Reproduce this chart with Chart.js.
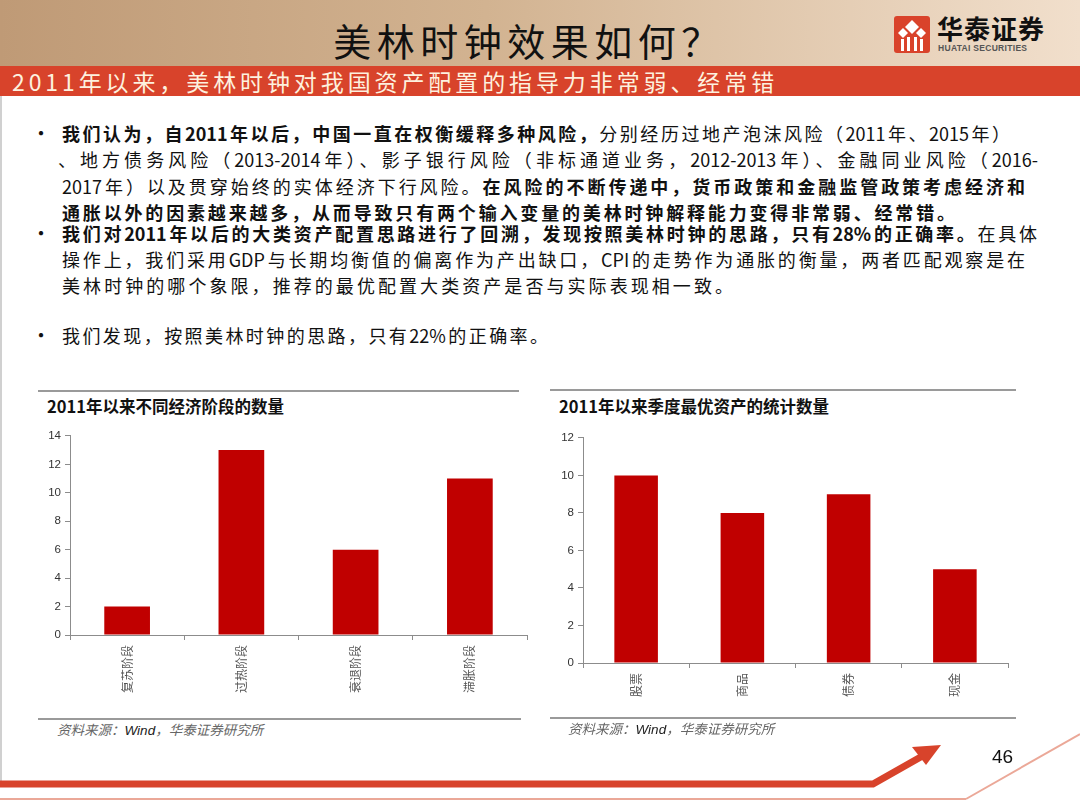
<!DOCTYPE html>
<html>
<head>
<meta charset="utf-8">
<script src="https://cdn.jsdelivr.net/npm/chart.js@4"></script>
<style>
body { margin: 0; width: 1080px; height: 810px; position: relative; overflow: hidden; background: #fff; font-family: "Noto Sans CJK SC", sans-serif; }
.abs { position: absolute; }
.header { left: 0; top: 0; width: 1080px; height: 66px; background: linear-gradient(to right, #bf9a76 0%, #d2b391 45%, #f1dfcc 100%); }
.title { left: 0; top: 16px; width: 1058px; text-align: center; font-size: 38px; line-height: 48px; letter-spacing: 5.5px; color: #111; }
.band { left: 0; top: 66px; width: 1080px; height: 30px; background: #d8432b; }
.bandtext { left: 12px; top: 66px; font-size: 23px; line-height: 30px; letter-spacing: 3.9px; color: #fdf1df; white-space: nowrap; }
.line { left: 62px; height: 26px; line-height: 26px; font-size: 18px; color: #111; text-align: justify; text-align-last: justify; }
.line b { font-weight: 700; }
.dot { left: 31px; font-size: 20px; line-height: 26px; height: 26px; color: #111; }
.rule { height: 0; border-top: 2px solid #9a9a9a; }
.ctitle { font-size: 16.5px; font-weight: 700; color: #111; line-height: 22px; white-space: nowrap; }
.src { font-size: 13.5px; font-style: italic; color: #666; line-height: 18px; white-space: nowrap; }
.src span { color: #222; font-family: "Liberation Sans", Arial, sans-serif; }
canvas { position: absolute; }
</style>
</head>
<body>
<div class="abs header"></div>
<div class="abs title">美林时钟效果如何？</div>
<svg class="abs" style="left:893px;top:15px" width="40" height="40" viewBox="0 0 40 40">
  <rect x="1" y="1" width="36" height="37" rx="3" fill="#d9432b"/>
  <polygon points="19,5 26,12 19,19 12,12" fill="#fff"/>
  <polygon points="10,13 15,18 10,23 5,18" fill="#fff"/>
  <polygon points="28,13 33,18 28,23 23,18" fill="#fff"/>
  <rect x="8" y="24" width="3" height="12" fill="#fff"/>
  <rect x="14" y="22" width="3" height="14" fill="#fff"/>
  <rect x="21" y="22" width="3" height="14" fill="#fff"/>
  <rect x="27" y="24" width="3" height="12" fill="#fff"/>
</svg>
<div class="abs" style="left:937px;top:12px;font-size:26px;font-weight:700;line-height:32px;color:#111;letter-spacing:1px;">华泰证券</div>
<div class="abs" style="left:938px;top:43px;font-size:8.5px;font-weight:700;line-height:10px;color:#555;font-family:'Liberation Sans',Arial,sans-serif;letter-spacing:0.3px;">HUATAI SECURITIES</div>

<div class="abs band"></div>
<div class="abs bandtext">2011年以来，美林时钟对我国资产配置的指导力非常弱、经常错</div>
<div class="abs" style="left:0;top:96px;width:2px;height:690px;background:#d0d0d0;"></div>

<div class="abs dot" style="top:120px">•</div>
<div class="abs line" style="top:120px;width:948px"><b>我们认为，自2011年以后，中国一直在权衡缓释多种风险，</b>分别经历过地产泡沫风险（2011年、2015年）</div>
<div class="abs line" style="top:146px;left:58px;width:980px">、地方债务风险（2013-2014年）、影子银行风险（非标通道业务，2012-2013年）、金融同业风险（2016-</div>
<div class="abs line" style="top:173px;width:963px">2017年）以及贯穿始终的实体经济下行风险。<b>在风险的不断传递中，货币政策和金融监管政策考虑经济和</b></div>
<div class="abs line" style="top:199px;width:893px"><b>通胀以外的因素越来越多，从而导致只有两个输入变量的美林时钟解释能力变得非常弱、经常错。</b></div>
<div class="abs dot" style="top:220px">•</div>
<div class="abs line" style="top:220px;width:975px"><b>我们对2011年以后的大类资产配置思路进行了回溯，发现按照美林时钟的思路，只有28%的正确率。</b>在具体</div>
<div class="abs line" style="top:246px;width:963px">操作上，我们采用GDP与长期均衡值的偏离作为产出缺口，CPI的走势作为通胀的衡量，两者匹配观察是在</div>
<div class="abs line" style="top:272px;width:671px">美林时钟的哪个象限，推荐的最优配置大类资产是否与实际表现相一致。</div>
<div class="abs dot" style="top:322px">•</div>
<div class="abs line" style="top:322px;width:486px">我们发现，按照美林时钟的思路，只有22%的正确率。</div>

<!-- left panel -->
<div class="abs rule" style="left:38px;top:390px;width:481px"></div>
<div class="abs ctitle" style="left:47px;top:395px">2011年以来不同经济阶段的数量</div>
<canvas id="stageChart" style="left:38px;top:425px" width="493" height="292"></canvas>
<div class="abs rule" style="left:38px;top:718px;width:483px"></div>
<div class="abs src" style="left:57px;top:720px">资料来源：<span>Wind</span>，华泰证券研究所</div>

<!-- right panel -->
<div class="abs rule" style="left:550px;top:389px;width:466px"></div>
<div class="abs ctitle" style="left:559px;top:395px">2011年以来季度最优资产的统计数量</div>
<canvas id="assetChart" style="left:550px;top:427px" width="462" height="296"></canvas>
<div class="abs rule" style="left:550px;top:717px;width:466px"></div>
<div class="abs src" style="left:568px;top:719px">资料来源：<span>Wind</span>，华泰证券研究所</div>

<!-- footer -->
<svg class="abs" style="left:0;top:730px" width="1080" height="80">
  <line x1="0" y1="69" x2="966" y2="69" stroke="#eba898" stroke-width="2"/>
  <line x1="966" y1="69" x2="1080" y2="4" stroke="#eba898" stroke-width="2"/>
  <polyline points="0,54 873,54 926,24" fill="none" stroke="#d8432b" stroke-width="7"/>
  <polygon points="941,15 912,17 926,35" fill="#d8432b"/>
</svg>
<div class="abs" style="left:992px;top:745px;font-size:19px;line-height:24px;color:#111;font-family:'Liberation Sans',Arial,sans-serif;">46</div>

<script>
let stageLabels = ['复苏阶段', '过热阶段', '衰退阶段', '滞胀阶段'];
let stageCounts = [2, 13, 6, 11];
let stageTicks = [0, 2, 4, 6, 8, 10, 12, 14];

let assetLabels = ['股票', '商品', '债券', '现金'];
let assetCounts = [10, 8, 9, 5];
let assetTicks = [0, 2, 4, 6, 8, 10, 12];

let barRed = '#c00000';
let axisGray = '#8c8c8c';

function makeBarChart(id, labels, values, tickVals, yWidth, xHeight, barPct) {
    let ctx = document.getElementById(id).getContext('2d');
    return new Chart(ctx, {
        type: 'bar',
        data: {
            labels: labels,
            datasets: [{
                data: values,
                backgroundColor: barRed,
                borderWidth: 0,
                barPercentage: barPct,
                categoryPercentage: 1
            }]
        },
        options: {
            responsive: false,
            animation: false,
            layout: { padding: { top: 8, right: 4, left: 0, bottom: 0 } },
            plugins: { legend: { display: false }, tooltip: { enabled: false } },
            scales: {
                x: {
                    grid: { display: true, drawOnChartArea: false, drawTicks: true, tickLength: 5, color: axisGray, offset: true },
                    border: { color: axisGray, width: 1 },
                    ticks: { minRotation: 90, maxRotation: 90, padding: 5, color: '#555', font: { size: 12, family: 'Noto Sans CJK SC' } },
                    afterFit: function (s) { s.height = xHeight; }
                },
                y: {
                    min: tickVals[0],
                    max: tickVals[tickVals.length - 1],
                    afterBuildTicks: function (s) { s.ticks = tickVals.map(function (v) { return { value: v }; }); },
                    grid: { drawOnChartArea: false, drawTicks: true, tickLength: 5, color: axisGray },
                    border: { color: axisGray, width: 1 },
                    ticks: { padding: 4, color: '#333', font: { size: 11.5, family: 'Liberation Sans' } },
                    afterFit: function (s) { s.width = yWidth; }
                }
            }
        }
    });
}

var stageChart = makeBarChart('stageChart', stageLabels, stageCounts, stageTicks, 32, 82, 0.4);
var assetChart = makeBarChart('assetChart', assetLabels, assetCounts, assetTicks, 33, 60, 0.41);
</script>
</body>
</html>
